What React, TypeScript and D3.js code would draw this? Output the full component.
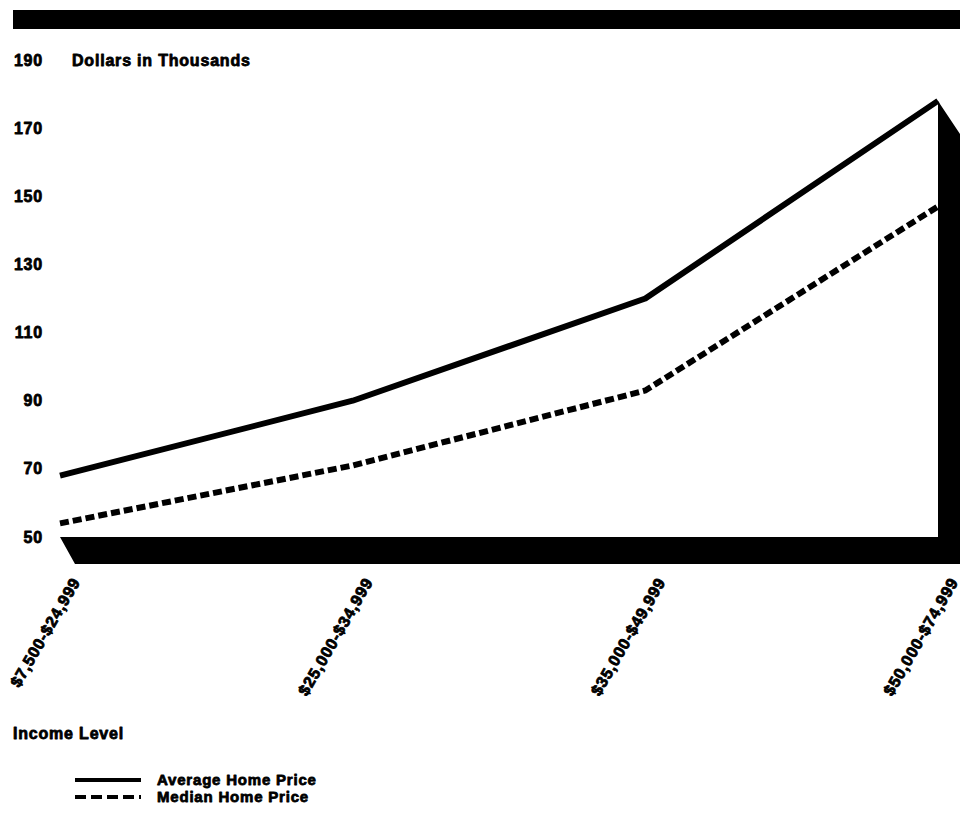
import { useEffect, useRef } from 'react';
import * as d3 from 'd3';

const incomeLevels = ['$7,500-$24,999', '$25,000-$34,999', '$35,000-$49,999', '$50,000-$74,999'];
const averagePrice = [68, 90, 120, 178];
const medianPrice = [54, 71, 93, 147];
const yTicks = [50, 70, 90, 110, 130, 150, 170, 190];

const FONT = '"Liberation Sans", Arial, Helvetica, sans-serif';

const App = () => {
  const svgRef = useRef<SVGSVGElement>(null);

  useEffect(() => {
    if (!svgRef.current) return;
    d3.select(svgRef.current).selectAll('*').remove();

    const width = 974;
    const height = 816;
    const svg = d3.select(svgRef.current).attr('width', width).attr('height', height);

    const x = d3.scalePoint<string>().domain(incomeLevels).range([60, 938]);
    const y = d3.scaleLinear().domain([50, 190]).range([537, 60]);

    const text = (sel: d3.Selection<SVGTextElement, unknown, null, undefined>, size = 16) =>
      sel
        .attr('font-family', FONT)
        .attr('font-weight', 'bold')
        .attr('font-size', `${size}px`)
        .attr('letter-spacing', '0.8px')
        .attr('fill', '#000')
        .attr('stroke', '#000')
        .attr('stroke-width', 0.8)
        .attr('stroke-linejoin', 'round');

    // Heavy bar across the top
    svg.append('rect').attr('x', 13).attr('y', 10).attr('width', 947).attr('height', 19).attr('fill', '#000');

    // Y tick labels
    yTicks.forEach((t) => {
      svg
        .append('text')
        .attr('x', 43)
        .attr('y', y(t))
        .attr('dy', '0.35em')
        .attr('text-anchor', 'end')
        .call(text)
        .text(t);
    });

    svg
      .append('text')
      .attr('x', 72)
      .attr('y', y(190))
      .attr('dy', '0.35em')
      .call(text)
      .text('Dollars in Thousands');

    // 3D floor and right wall as one shape
    const x0 = x(incomeLevels[0])!;
    const x3 = x(incomeLevels[3])!;
    const base = y(50);
    const floorBottom = base + 27;
    const wallTop = y(averagePrice[3]);

    svg
      .append('path')
      .attr(
        'd',
        `M${x0},${base}L${x3},${base}L${x3},${wallTop}L${x3 + 22},${wallTop + 33}` +
          `L${x3 + 22},${floorBottom}L${x0 + 15},${floorBottom}Z`
      )
      .attr('fill', '#000');

    const line = d3
      .line<number>()
      .x((_, i) => x(incomeLevels[i])!)
      .y((d) => y(d));

    svg
      .append('path')
      .datum(averagePrice)
      .attr('d', line)
      .attr('fill', 'none')
      .attr('stroke', '#000')
      .attr('stroke-width', 6)
      .attr('stroke-linejoin', 'round');

    svg
      .append('path')
      .datum(medianPrice)
      .attr('d', line)
      .attr('fill', 'none')
      .attr('stroke', '#000')
      .attr('stroke-width', 6)
      .attr('stroke-dasharray', '9,4');

    // X tick labels, rotated
    incomeLevels.forEach((lvl) => {
      const px = x(lvl)! + 16;
      const py = 579;
      svg
        .append('text')
        .attr('transform', `translate(${px},${py}) rotate(-60)`)
        .attr('text-anchor', 'end')
        .attr('dy', '0.35em')
        .call(text, 16)
        .text(lvl);
    });

    svg.append('text').attr('x', 13).attr('y', 733).attr('dy', '0.35em').call(text).text('Income Level');

    // Legend
    const legend = [
      { label: 'Average Home Price', dash: null as string | null, y: 780 },
      { label: 'Median Home Price', dash: '11,5', y: 797 },
    ];
    legend.forEach((l) => {
      svg
        .append('line')
        .attr('x1', 75)
        .attr('x2', 141)
        .attr('y1', l.y)
        .attr('y2', l.y)
        .attr('stroke', '#000')
        .attr('stroke-width', 4)
        .attr('stroke-dasharray', l.dash);
      svg
        .append('text')
        .attr('x', 157)
        .attr('y', l.y)
        .attr('dy', '0.35em')
        .call(text, 15)
        .text(l.label);
    });
  }, []);

  return <svg ref={svgRef} style={{ position: 'absolute', left: 0, top: 0, display: 'block', background: '#fff' }} />;
};

export default App;
